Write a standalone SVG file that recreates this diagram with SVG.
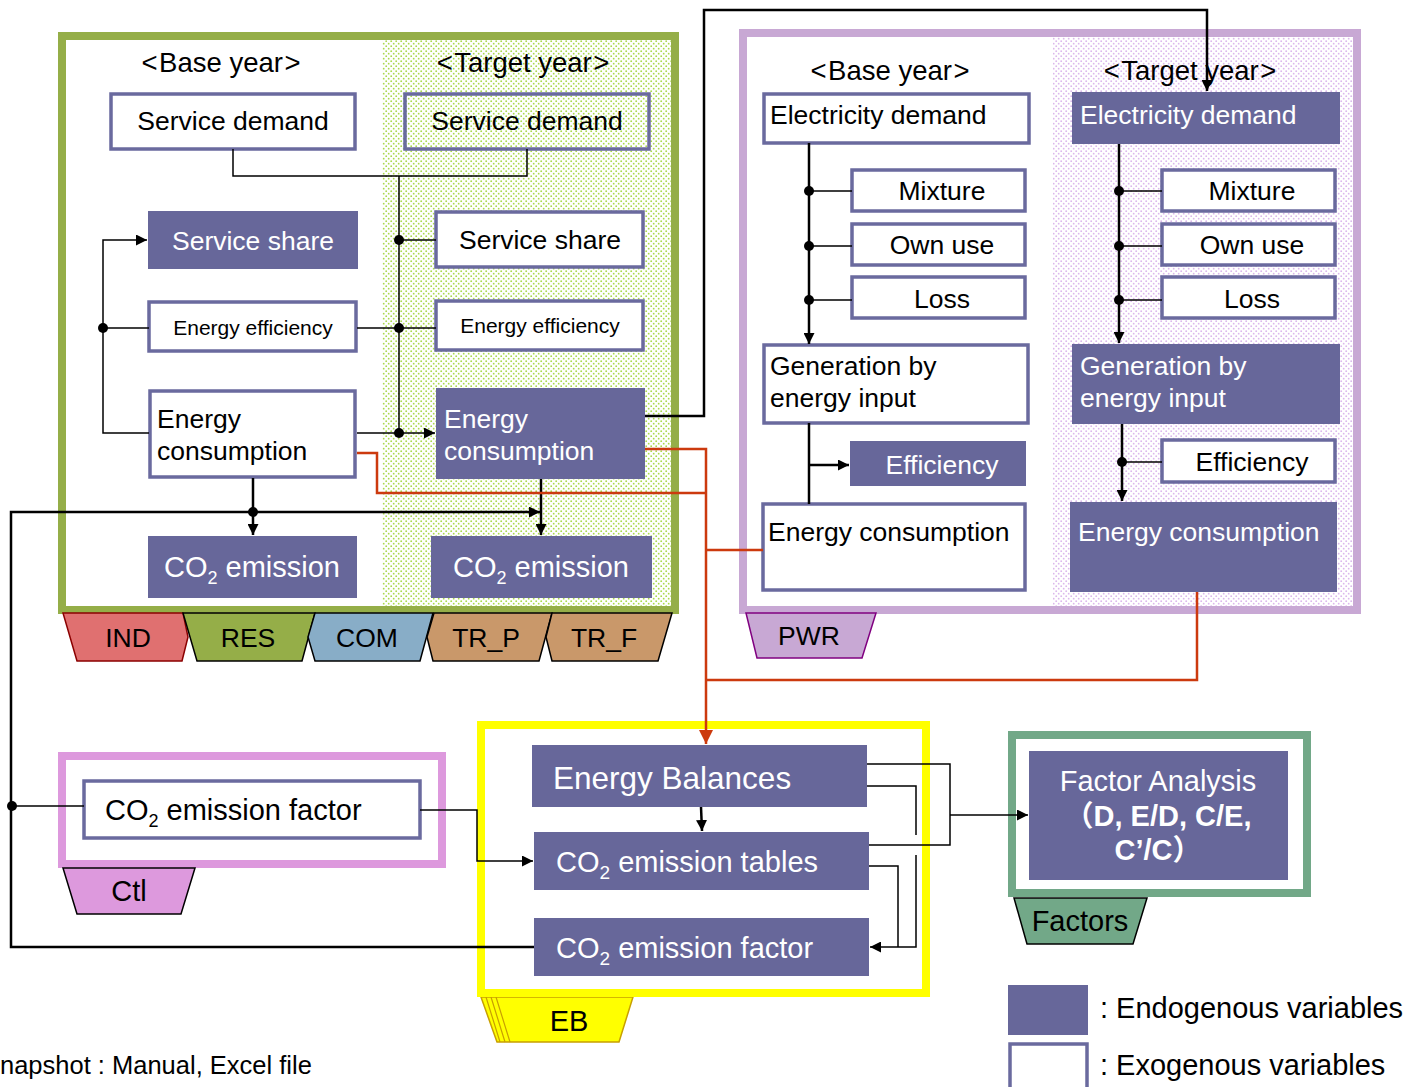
<svg xmlns="http://www.w3.org/2000/svg" width="1424" height="1087" viewBox="0 0 1424 1087">
<defs>
<pattern id="gdots" width="5" height="5" patternUnits="userSpaceOnUse">
<rect width="5" height="5" fill="#ffffff"/>
<circle cx="1.2" cy="1.2" r="0.9" fill="#a9d94c"/>
<circle cx="3.7" cy="3.7" r="0.9" fill="#a9d94c"/>
</pattern>
<pattern id="pdots" width="5" height="5" patternUnits="userSpaceOnUse">
<rect width="5" height="5" fill="#ffffff"/>
<circle cx="1.2" cy="1.2" r="0.9" fill="#dcb8ec"/>
<circle cx="3.7" cy="3.7" r="0.9" fill="#dcb8ec"/>
</pattern>
<marker id="ah" viewBox="0 0 10 10" refX="10" refY="5" markerWidth="11" markerHeight="11" markerUnits="userSpaceOnUse" orient="auto">
<path d="M0,0 L10,5 L0,10 z" fill="#000"/>
</marker>
<marker id="ahr" viewBox="0 0 10 10" refX="10" refY="5" markerWidth="14" markerHeight="14" markerUnits="userSpaceOnUse" orient="auto">
<path d="M0,0 L10,5 L0,10 z" fill="#cc3a0e"/>
</marker>
</defs>
<style>
text{font-family:"Liberation Sans",Arial,"Noto Sans CJK JP",sans-serif;fill:#000}
.en{fill:#67679a}
.ex{fill:#fff;stroke:#6a6a9e;stroke-width:3.5}
.exo{fill:none;stroke:#6a6a9e;stroke-width:3.5}
.w{fill:#fff}
.c{text-anchor:middle}
.f26{font-size:26.5px}
.f27{font-size:27.5px}
.f28{font-size:29px}
.f21{font-size:21px}
.ln{fill:none;stroke:#000;stroke-width:1.5}
.lk{fill:none;stroke:#000;stroke-width:2.5}
.rd{fill:none;stroke:#cc3a0e;stroke-width:2.5}
.tab{stroke:#000;stroke-width:1.5}
</style>

<!-- Sector container -->
<g id="sector">
<rect x="62" y="36" width="613" height="574" fill="#fff"/>
<rect x="382" y="40" width="289" height="566" fill="url(#gdots)"/>
<rect x="62" y="36" width="613" height="574" fill="none" stroke="#95ae48" stroke-width="8"/>
<text x="221" y="72" class="f27 c">&lt;<tspan dx="1.5">Base year</tspan><tspan dx="1.5">&gt;</tspan></text>
<text x="523" y="72" class="f27 c">&lt;<tspan dx="1.5">Target year</tspan><tspan dx="1.5">&gt;</tspan></text>
</g>
<g id="tabs">
<polygon points="63,613 183,613 188,637 182,661 77,661" fill="#e07070" stroke="#8b0000" stroke-width="1.5"/>
<polygon points="183,613 315,613 302,661 197,661" fill="#95ae48" class="tab"/>
<polygon points="315,613 433,613 420,661 315,661 308,637" fill="#88adc7" class="tab"/>
<polygon points="434,613 552,613 539,661 433,661 427,637" fill="#c9986a" class="tab"/>
<polygon points="552,613 672,613 658,661 552,661 546,637" fill="#c9986a" class="tab"/>
<text x="128" y="647" class="f26 c">IND</text>
<text x="248" y="647" class="f26 c">RES</text>
<text x="367" y="647" class="f26 c">COM</text>
<text x="486" y="647" class="f26 c">TR_P</text>
<text x="604" y="647" class="f26 c">TR_F</text>
</g>

<g id="sd-base"><rect x="111" y="94" width="244" height="55" class="ex"/><text x="233" y="130" class="f26 c">Service demand</text></g>
<g id="sd-target"><rect x="405" y="94" width="244" height="55" class="exo"/><text x="527" y="130" class="f26 c">Service demand</text></g>
<g id="ss-base"><rect x="148" y="211" width="210" height="58" class="en"/><text x="253" y="250" class="f26 c w">Service share</text></g>
<g id="ss-target"><rect x="436" y="212" width="207" height="55" class="ex"/><text x="540" y="249" class="f26 c">Service share</text></g>
<g id="ee-base"><rect x="149" y="302" width="207" height="49" class="ex"/><text x="253" y="335" class="f21 c">Energy efficiency</text></g>
<g id="ee-target"><rect x="436" y="301" width="207" height="49" class="ex"/><text x="540" y="333" class="f21 c">Energy efficiency</text></g>
<g id="ec-base"><rect x="150" y="391" width="205" height="86" class="ex"/><text x="157" y="428" class="f26">Energy</text><text x="157" y="460" class="f26">consumption</text></g>
<g id="ec-target"><rect x="436" y="388" width="209" height="91" class="en"/><text x="444" y="428" class="f26 w">Energy</text><text x="444" y="460" class="f26 w">consumption</text></g>
<g id="co2-base"><rect x="148" y="536" width="209" height="62" class="en"/><text x="252" y="577" class="f28 c w">CO<tspan font-size="18" dy="7">2</tspan><tspan dy="-7"> emission</tspan></text></g>
<g id="co2-target"><rect x="431" y="536" width="221" height="62" class="en"/><text x="541" y="577" class="f28 c w">CO<tspan font-size="18" dy="7">2</tspan><tspan dy="-7"> emission</tspan></text></g>

<!-- PWR container -->
<g id="pwr">
<rect x="743" y="33" width="614" height="577" fill="#fff"/>
<rect x="1053" y="37" width="300" height="569" fill="url(#pdots)"/>
<rect x="743" y="33" width="614" height="577" fill="none" stroke="#c8a8d4" stroke-width="8"/>
<polygon points="746,613 876,613 862,658 757,658" fill="#c8a8d4" stroke="#800080" stroke-width="1.5"/>
<text x="809" y="645" class="f26 c">PWR</text>
<text x="890" y="80" class="f27 c">&lt;<tspan dx="1.5">Base year</tspan><tspan dx="1.5">&gt;</tspan></text>
<text x="1190" y="80" class="f27 c">&lt;<tspan dx="1.5">Target year</tspan><tspan dx="1.5">&gt;</tspan></text>
</g>
<g id="eld-base"><rect x="764" y="94" width="265" height="49" class="ex"/><text x="770" y="124" class="f26">Electricity demand</text></g>
<g id="eld-target"><rect x="1072" y="92" width="268" height="52" class="en"/><text x="1080" y="124" class="f26 w">Electricity demand</text></g>
<g id="mix-base"><rect x="852" y="170" width="173" height="41" class="ex"/><text x="942" y="200" class="f26 c">Mixture</text></g>
<g id="own-base"><rect x="852" y="224" width="173" height="41" class="ex"/><text x="942" y="254" class="f26 c">Own use</text></g>
<g id="loss-base"><rect x="852" y="277" width="173" height="41" class="ex"/><text x="942" y="308" class="f26 c">Loss</text></g>
<g id="mix-target"><rect x="1162" y="170" width="173" height="41" class="ex"/><text x="1252" y="200" class="f26 c">Mixture</text></g>
<g id="own-target"><rect x="1162" y="224" width="173" height="41" class="ex"/><text x="1252" y="254" class="f26 c">Own use</text></g>
<g id="loss-target"><rect x="1162" y="277" width="173" height="41" class="ex"/><text x="1252" y="308" class="f26 c">Loss</text></g>
<g id="gen-base"><rect x="764" y="345" width="264" height="78" class="ex"/><text x="770" y="375" class="f26">Generation by</text><text x="770" y="407" class="f26">energy input</text></g>
<g id="gen-target"><rect x="1072" y="344" width="268" height="80" class="en"/><text x="1080" y="375" class="f26 w">Generation by</text><text x="1080" y="407" class="f26 w">energy input</text></g>
<g id="eff-base"><rect x="850" y="441" width="176" height="45" class="en"/><text x="942" y="474" class="f26 c w">Efficiency</text></g>
<g id="eff-target"><rect x="1162" y="440" width="173" height="42" class="ex"/><text x="1252" y="471" class="f26 c">Efficiency</text></g>
<g id="pec-base"><rect x="763" y="504" width="262" height="86" class="ex"/><text x="768" y="541" class="f26">Energy consumption</text></g>
<g id="pec-target"><rect x="1070" y="502" width="267" height="90" class="en"/><text x="1078" y="541" class="f26 w">Energy consumption</text></g>

<!-- Ctl -->
<g id="ctl">
<rect x="62" y="756" width="380" height="108" fill="#fff" stroke="#dd99dd" stroke-width="8"/>
<polygon points="63,868 195,868 181,914 77,914" fill="#dd99dd" class="tab"/>
<text x="129" y="901" class="f28 c">Ctl</text>
</g>
<g id="ctl-ef"><rect x="84" y="781" width="336" height="57" class="ex"/><text x="105" y="820" class="f28">CO<tspan font-size="18" dy="7">2</tspan><tspan dy="-7"> emission factor</tspan></text></g>

<!-- EB -->
<g id="eb">
<polygon points="481,997 633,997 619,1042 497,1042" fill="#ffff00" stroke="#c8a000" stroke-width="1.5"/>
<path d="M486,997 L500,1042 M491,997 L505,1042 M496,997 L510,1042" stroke="#c8a000" stroke-width="1.2" fill="none"/>
<rect x="481" y="725" width="445" height="268" fill="#fff" stroke="#ffff00" stroke-width="8"/>
<text x="569" y="1031" class="f28 c">EB</text>
</g>
<g id="eb-bal"><rect x="532" y="745" width="335" height="62" class="en"/><text x="553" y="789" font-size="31.5" class="w">Energy Balances</text></g>
<g id="eb-tab"><rect x="534" y="832" width="335" height="58" class="en"/><text x="556" y="872" font-size="29" class="w">CO<tspan font-size="19" dy="7">2</tspan><tspan dy="-7"> emission tables</tspan></text></g>
<g id="eb-ef"><rect x="534" y="918" width="335" height="58" class="en"/><text x="556" y="958" font-size="29" class="w">CO<tspan font-size="19" dy="7">2</tspan><tspan dy="-7"> emission factor</tspan></text></g>

<!-- Factors -->
<g id="factors">
<polygon points="1014,898 1147,898 1133,944 1027,944" fill="#72a888" class="tab"/>
<rect x="1012" y="735" width="295" height="158" fill="#fff" stroke="#72a888" stroke-width="8"/>
<text x="1080" y="931" class="f28 c">Factors</text>
</g>
<g id="fa"><rect x="1029" y="751" width="259" height="129" class="en"/>
<text x="1158" y="791" class="f28 c w">Factor Analysis</text>
<text x="1158" y="826" class="f28 c w" font-weight="bold">（D, E/D, C/E,</text>
<text x="1158" y="860" class="f28 c w" font-weight="bold">C’/C）</text>
</g>

<!-- Legend -->
<g id="legend">
<rect x="1008" y="985" width="80" height="50" class="en"/>
<text x="1100" y="1018" class="f28">: Endogenous variables</text>
<rect x="1010" y="1044" width="77" height="60" class="ex" stroke-width="4"/>
<text x="1100" y="1075" class="f28">: Exogenous variables</text>
<text x="0" y="1074" font-size="25.5">napshot : Manual, Excel file</text>
</g>

<!-- Connectors -->
<g id="connectors">
<path class="ln" d="M233,149 V176 H527 V149"/>
<path class="ln" d="M399,176 V433"/>
<path class="ln" d="M399,240 H436"/>
<path class="ln" d="M357,328 H436"/>
<path class="ln" d="M357,433 H435" marker-end="url(#ah)"/>
<path class="ln" d="M149,433 H103 V240 H147" marker-end="url(#ah)"/>
<path class="ln" d="M103,328 H149"/>
<path class="lk" d="M253,478 V535" stroke-width="2" marker-end="url(#ah)"/>
<path class="lk" d="M541,479 V535" stroke-width="2" marker-end="url(#ah)"/>
<path class="lk" d="M534,947 H11 V512 H540" stroke-width="2" marker-end="url(#ah)"/>
<path class="ln" d="M12,806 H84"/>
<path class="lk" d="M645,416 H704 V10 H1207 V91" marker-end="url(#ah)"/>
<path class="lk" d="M809,143 V344" stroke-width="2" marker-end="url(#ah)"/>
<path class="ln" d="M809,191 H852 M809,246 H852 M809,300 H852"/>
<path class="lk" d="M1119,144 V343" stroke-width="2" marker-end="url(#ah)"/>
<path class="ln" d="M1119,191 H1162 M1119,246 H1162 M1119,300 H1162"/>
<path class="lk" d="M809,423 V504" stroke-width="2"/>
<path class="lk" d="M809,465 H849" stroke-width="2" marker-end="url(#ah)"/>
<path class="lk" d="M1122,424 V501" stroke-width="2" marker-end="url(#ah)"/>
<path class="ln" d="M1122,462 H1162"/>
<path class="rd" d="M357,453 H377 V493 H706"/>
<path class="rd" d="M645,449 H706 V744" marker-end="url(#ahr)"/>
<path class="rd" d="M706,550 H763"/>
<path class="rd" d="M1197,592 V680 H706"/>
<path class="lk" d="M701,807 L702,831" stroke-width="2" marker-end="url(#ah)"/>
<path class="ln" d="M867,764 H950 V845 H869"/>
<path class="ln" d="M950,815 H1028" marker-end="url(#ah)"/>
<path class="ln" d="M867,786 H916 V835 M916,855 V947 H870" marker-end="url(#ah)"/>
<path class="ln" d="M869,866 H898 V947"/>
<path class="ln" d="M420,810 H477 V861 H533" marker-end="url(#ah)"/>
<g fill="#000">
<circle cx="399" cy="240" r="5"/><circle cx="399" cy="328" r="5"/><circle cx="399" cy="433" r="5"/>
<circle cx="103" cy="328" r="5"/><circle cx="253" cy="512" r="5"/><circle cx="12" cy="806" r="5"/>
<circle cx="809" cy="191" r="5"/><circle cx="809" cy="246" r="5"/><circle cx="809" cy="300" r="5"/>
<circle cx="1119" cy="191" r="5"/><circle cx="1119" cy="246" r="5"/><circle cx="1119" cy="300" r="5"/>
<circle cx="1122" cy="462" r="5"/>
</g>
</g>
</svg>
